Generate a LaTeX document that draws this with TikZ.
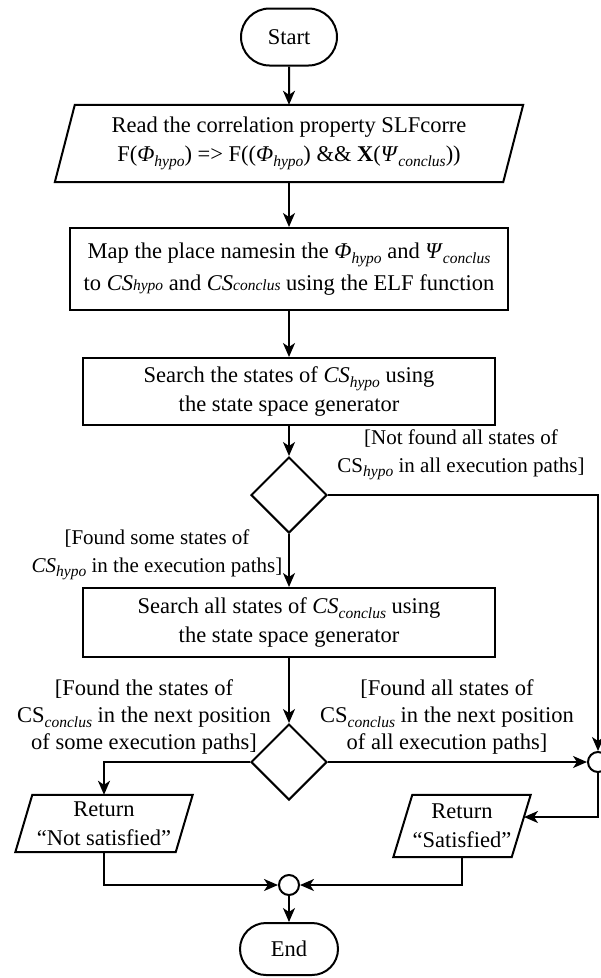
\documentclass[tikz,border=0pt]{standalone}
\usepackage{fontspec}
\setmainfont{Liberation Serif}
\usetikzlibrary{arrows.meta,shapes.geometric,shapes.misc,calc}

% lowered italic subscript and small italic suffix
\newcommand\lowsub[1]{\raisebox{-0.45ex}{\fontsize{15.5}{15.5}\selectfont\itshape #1}}
\newcommand\smallsub[1]{{\fontsize{15.5}{15.5}\selectfont\itshape #1}}
% parallelogram outline around a borderless node (#2 = half the slant)
\newcommand\ioframe[2]{\draw[outline] ([xshift=#2]#1.north west) -- ([xshift=#2]#1.north east) -- ([xshift=-#2]#1.south east) -- ([xshift=-#2]#1.south west) -- cycle;}

\begin{document}
\begin{tikzpicture}[x=1pt,y=-1pt,
  outline/.style={line width=2pt, line join=miter},
  txt/.style={font=\fontsize{22.5}{29}\selectfont, align=center},
  process/.style={txt, draw, outline, rectangle, inner sep=0pt},
  io/.style={txt, rectangle, inner sep=0pt},
  terminal/.style={txt, draw, outline, rounded rectangle, inner sep=0pt},
  decision/.style={draw, outline, diamond, inner sep=0pt, minimum width=76pt, minimum height=76pt},
  junction/.style={draw, outline, circle, fill=white, inner sep=0pt, minimum size=20pt},
  flow/.style={line width=2pt, -{Stealth[length=14pt,width=12pt,inset=4pt]}},
  guard/.style={font=\fontsize{22.5}{27}\selectfont, align=center, inner sep=0pt},
  smallguard/.style={guard, font=\fontsize{21}{28}\selectfont}
]
\useasboundingbox (0,0) rectangle (601,978);

% main column
\node[terminal, minimum width=96pt, minimum height=57pt] (start) at (289,37) {Start};
\node[io, minimum width=448pt, minimum height=77pt] (read) at (289,143.5)
  {Read the correlation property SLFcorre\\
   F(\textit{Φ}\lowsub{hypo}) => F((\textit{Φ}\lowsub{hypo}) \&\& \textbf{X}(\textit{Ψ}\lowsub{conclus}))};
\ioframe{read}{10pt}
\node[process, minimum width=438pt, minimum height=82pt, font=\fontsize{22.5}{32}\selectfont] (map) at (289,269)
  {Map the place namesin the \textit{Φ}\lowsub{hypo} and \textit{Ψ}\lowsub{conclus}\\
   to \textit{CS}\smallsub{hypo} and \textit{CS}\smallsub{conclus} using the ELF function};
\node[process, minimum width=412pt, minimum height=67pt] (s1) at (289,391.5)
  {Search the states of \textit{CS}\lowsub{hypo} using\\ the state space generator};
\node[decision] (d1) at (289,495) {};
\node[process, minimum width=412pt, minimum height=69pt] (s2) at (289,622.5)
  {Search all states of \textit{CS}\lowsub{conclus} using\\ the state space generator};
\node[decision] (d2) at (289,762) {};

% results
\node[io, minimum width=160pt, minimum height=57pt] (nsat) at (104,823.5) {Return\\ “Not satisfied”};
\ioframe{nsat}{8.5pt}
\node[io, minimum width=118pt, minimum height=62pt] (sat) at (462,826) {Return\\ “Satisfied”};
\ioframe{sat}{9.5pt}

% merge points and end
\node[junction] (jr) at (598,762) {};
\node[junction] (jm) at (289,885) {};
\node[terminal, minimum width=98pt, minimum height=52pt] (end) at (289,949) {End};

% connectors
\draw[flow] (start) -- (read);
\draw[flow] (read) -- (map);
\draw[flow] (map) -- (s1);
\draw[flow] (s1) -- (d1);
\draw[flow] (d1) -- (s2);
\draw[flow] (d1.east) -| (jr);
\draw[flow] (s2) -- (d2);
\draw[flow] (d2.east) -- (jr);
\draw[flow] (d2.west) -| (nsat);
\coordinate (satin) at ($(sat.east)+(2.8,-9)$);
\draw[flow] (jr.south) |- (satin);
\draw[flow] (nsat.south) |- (jm);
\draw[flow] (sat.south) |- (jm);
\draw[flow] (jm) -- (end);

% branch conditions
\node[smallguard] (g1) at (461,455) {[Not found all states of\\ CS\lowsub{hypo} in all execution paths]};
\node[smallguard] (g2) at (157,555) {[Found some states of\\ \textit{CS}\lowsub{hypo} in the execution paths]};
\node[guard] (g3) at (144,717) {[Found the states of\\ CS\lowsub{conclus} in the next position\\ of some execution paths]};
\node[guard] (g4) at (447,717) {[Found all states of\\ CS\lowsub{conclus} in the next position\\ of all execution paths]};
\end{tikzpicture}
\end{document}
